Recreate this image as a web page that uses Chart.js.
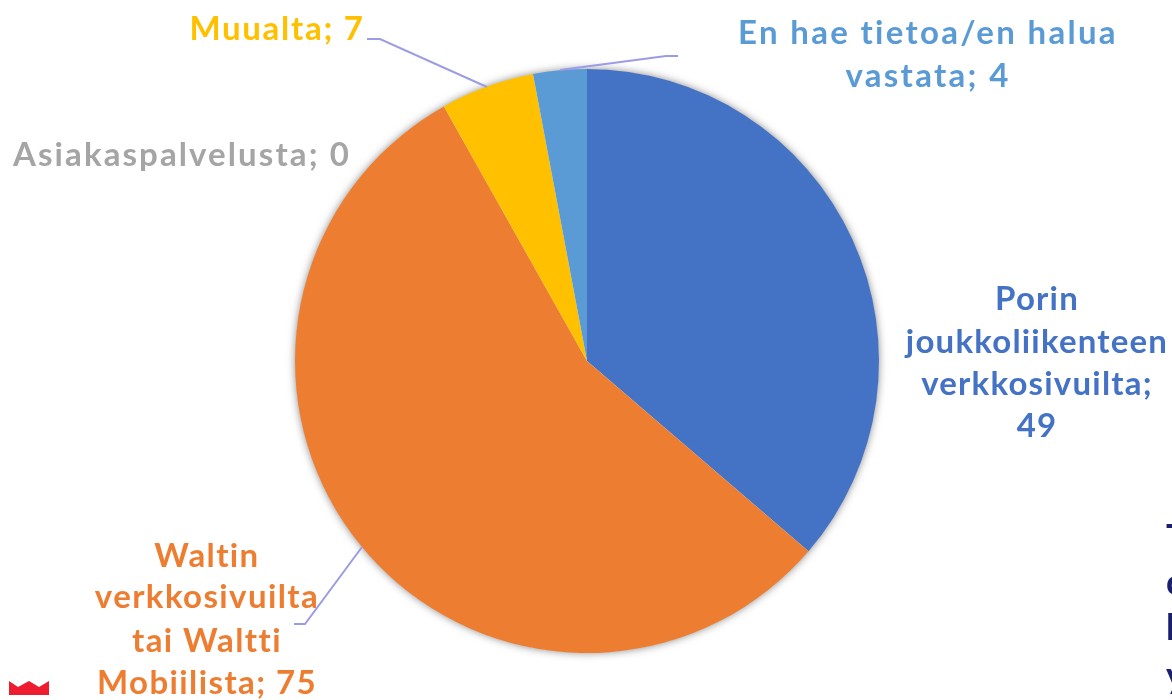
<!DOCTYPE html>
<html><head><meta charset="utf-8">
<style>html,body{margin:0;padding:0;background:#fff;overflow:hidden}#w{position:relative;width:1172px;height:700px}canvas{display:block}</style>
<script src="https://cdn.jsdelivr.net/npm/chart.js@4/dist/chart.umd.min.js"></script>
</head><body><div id="w"><canvas id="c" width="1172" height="700"></canvas></div>
<script>
const categories=["Porin joukkoliikenteen verkkosivuilta","Waltin verkkosivuilta tai Waltti Mobiilista","Asiakaspalvelusta","Muualta","En hae tietoa/en halua vastata"];
const values=[49,75,0,7,4];
const colors=["#4472C4","#ED7D31","#A5A5A5","#FFC000","#5B9BD5"];
const wrapped=[["Porin","joukkoliikenteen","verkkosivuilta;","49"],["Waltin","verkkosivuilta","tai Waltti","Mobiilista; 75"],["Asiakaspalvelusta; 0"],["Muualta; 7"],["En hae tietoa/en halua","vastata; 4"]];
const labelPlace=[{x:1037,y:[310,353,395,437],s:1.2},{x:207,y:[567,608,652,694],s:1.4},{x:182,y:[166],s:2.1},{x:277,y:[40],s:1.7},{x:928,y:[44,87],s:2.3}];
const leaders=[[[367,39],[380,39],[487,87]],[[678,56],[666,56],[560,70]],[[294,624],[305,624],[362,547]]];
const sideText=["T","o","k","y"];
const sideY=[550,595,640,688];
const FONT='bold 33px Lato';
const deco={id:'deco',
 beforeDatasetsDraw(ch){const c=ch.ctx,a=ch.getDatasetMeta(0).data[0];c.save();c.shadowColor='rgba(0,0,0,0.5)';c.shadowBlur=9;c.fillStyle='#fff';c.beginPath();c.arc(a.x,a.y,a.outerRadius-0.5,0,Math.PI*2);c.fill();c.restore();},
 afterDatasetsDraw(ch){const c=ch.ctx;
  c.save();c.strokeStyle='#9C9CE4';c.lineWidth=2;
  leaders.forEach(l=>{c.beginPath();l.forEach((p,i)=>i?c.lineTo(p[0],p[1]):c.moveTo(p[0],p[1]));c.stroke();});
  c.font=FONT;c.textAlign='center';c.textBaseline='alphabetic';
  wrapped.forEach((ls,i)=>{c.fillStyle=colors[i];c.letterSpacing=labelPlace[i].s+'px';ls.forEach((t,j)=>c.fillText(t,labelPlace[i].x,labelPlace[i].y[j]));});
  c.letterSpacing='0px';c.textAlign='left';c.fillStyle='#1B1F6E';c.font='bold 36px Lato';
  sideText.forEach((t,i)=>c.fillText(t,1166,sideY[i]));
  c.fillStyle='#ED1C2E';c.beginPath();
  [[9,681],[18,687],[29,681],[39,687],[49,681],[49,695],[9,695]].forEach((p,i)=>i?c.lineTo(p[0],p[1]):c.moveTo(p[0],p[1]));
  c.closePath();c.fill();c.restore();
 }};
new Chart(document.getElementById('c'),{type:'pie',
 data:{labels:categories,datasets:[{data:values,backgroundColor:colors,borderWidth:0}]},
 options:{responsive:false,animation:false,rotation:0,
  layout:{padding:{left:295,right:293,top:69,bottom:47}},
  plugins:{legend:{display:false},tooltip:{enabled:false}}},
 plugins:[deco]});
</script></body></html>
